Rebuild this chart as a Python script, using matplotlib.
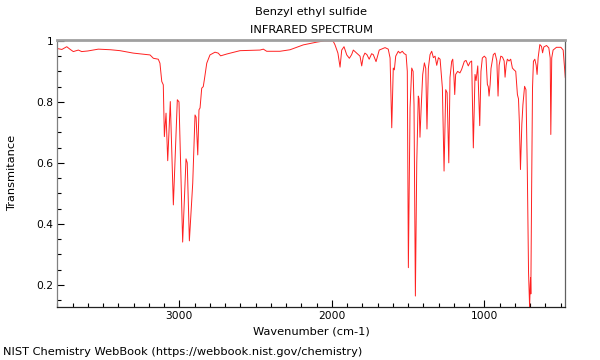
import matplotlib
matplotlib.use("Agg")
import matplotlib.pyplot as plt
from matplotlib.ticker import MultipleLocator, FuncFormatter

title_compound = "Benzyl ethyl sulfide"
title_kind = "INFRARED SPECTRUM"
x_label = "Wavenumber (cm-1)"
y_label = "Transmitance"
footer = "NIST Chemistry WebBook (https://webbook.nist.gov/chemistry)"

wavenumber = [3800, 3770, 3738, 3715, 3695, 3662, 3640, 3600, 3531, 3450, 3389, 3302,
              3192, 3170, 3138, 3127, 3115, 3105, 3098, 3087, 3076, 3059, 3039, 3013,
              3002, 2978, 2956, 2948, 2934, 2912, 2897, 2890, 2879, 2871, 2864, 2853,
              2843, 2836, 2820, 2799, 2766, 2745, 2729, 2689, 2602, 2471, 2449, 2427,
              2340, 2274, 2187, 2099, 2050, 2000, 1990, 1979, 1960, 1946, 1935, 1920,
              1902, 1885, 1870, 1859, 1837, 1815, 1804, 1794, 1783, 1770, 1755, 1739,
              1728, 1710, 1689, 1651, 1630, 1618, 1607, 1597, 1590, 1581, 1564, 1553,
              1538, 1525, 1513, 1505, 1498, 1487, 1476, 1467, 1461, 1452, 1443, 1433,
              1428, 1422, 1415, 1404, 1393, 1384, 1376, 1367, 1356, 1345, 1334, 1323,
              1312, 1301, 1290, 1275, 1264, 1253, 1244, 1233, 1225, 1214, 1207, 1199,
              1194, 1188, 1175, 1160, 1149, 1131, 1120, 1105, 1094, 1083, 1072, 1061,
              1054, 1043, 1030, 1022, 1013, 1000, 989, 980, 974, 969, 962, 956, 941,
              930, 918, 910, 903, 892, 881, 870, 864, 857, 849, 838, 827, 816, 805, 794,
              783, 776, 770, 763, 754, 747, 736, 727, 718, 710, 703, 699, 697, 695, 690,
              684, 678, 669, 660, 654, 647, 636, 625, 618, 610, 592, 577, 568, 564, 558,
              549, 527, 498, 483, 469]

transmittance = [0.975, 0.972, 0.981, 0.972, 0.965, 0.970, 0.965, 0.967, 0.973, 0.971, 0.968, 0.960,
                 0.954, 0.943, 0.940, 0.927, 0.867, 0.856, 0.686, 0.763, 0.607, 0.801, 0.462, 0.807,
                 0.800, 0.340, 0.613, 0.600, 0.344, 0.533, 0.757, 0.750, 0.626, 0.774, 0.780, 0.845,
                 0.850, 0.872, 0.927, 0.954, 0.963, 0.960, 0.951, 0.957, 0.968, 0.970, 0.973, 0.966,
                 0.966, 0.971, 0.987, 0.996, 1.000, 1.000, 0.998, 0.987, 0.960, 0.914, 0.970, 0.981,
                 0.954, 0.943, 0.955, 0.970, 0.960, 0.950, 0.918, 0.948, 0.960, 0.955, 0.940, 0.958,
                 0.955, 0.932, 0.970, 0.978, 0.973, 0.944, 0.715, 0.911, 0.905, 0.950, 0.966, 0.960,
                 0.966, 0.958, 0.955, 0.900, 0.256, 0.780, 0.911, 0.900, 0.790, 0.163, 0.600, 0.819,
                 0.810, 0.684, 0.770, 0.890, 0.928, 0.910, 0.711, 0.910, 0.955, 0.966, 0.945, 0.950,
                 0.920, 0.945, 0.940, 0.846, 0.573, 0.840, 0.830, 0.600, 0.880, 0.933, 0.940, 0.880,
                 0.824, 0.890, 0.900, 0.895, 0.906, 0.933, 0.936, 0.918, 0.930, 0.934, 0.649, 0.890,
                 0.870, 0.918, 0.722, 0.900, 0.944, 0.950, 0.944, 0.857, 0.850, 0.819, 0.857, 0.910, 0.955,
                 0.960, 0.935, 0.819, 0.920, 0.950, 0.947, 0.934, 0.881, 0.920, 0.940, 0.934, 0.940, 0.911, 0.905, 0.900,
                 0.824, 0.810, 0.730, 0.578, 0.726, 0.790, 0.851, 0.840, 0.570, 0.240, 0.126, 0.200, 0.223, 0.170, 0.500,
                 0.846, 0.933, 0.940, 0.920, 0.890, 0.945, 0.988, 0.982, 0.961, 0.980, 0.985, 0.977, 0.944, 0.693, 0.944,
                 0.970, 0.979, 0.979, 0.970, 0.880]

y_ticks = [0.2, 0.4, 0.6, 0.8, 1.0]
x_ticks = [1000, 2000, 3000]

fig = plt.figure(figsize=(6, 3.6), dpi=100)
ax = fig.add_axes([57.3 / 600, 1 - 306.7 / 360, (565.3 - 57.3) / 600, (306.7 - 40) / 360])
ax.plot(wavenumber, transmittance, color="#ff2020", lw=0.7)
ax.set_xlim(3800, 469)
ax.set_ylim(0.128, 1.003)

fs_tick = 7.7
fs = 8.2
ax.set_xticks(x_ticks)
ax.set_yticks(y_ticks)
ax.xaxis.set_minor_locator(MultipleLocator(100))
ax.yaxis.set_minor_locator(MultipleLocator(0.05))
ax.yaxis.set_major_formatter(FuncFormatter(lambda v, p: "%g" % v))
ax.tick_params(which="both", direction="in", top=False, right=False, labelsize=fs_tick, pad=3)
ax.tick_params(which="major", length=5, width=0.8)
ax.tick_params(which="minor", length=3, width=0.8)

ax.spines["top"].set_color("#a0a0a0")
ax.spines["top"].set_linewidth(2)
ax.spines["left"].set_color("#808080")
ax.spines["right"].set_color("#606060")
ax.spines["bottom"].set_color("#222222")
for s in ax.spines.values():
    if s is not ax.spines["top"]:
        s.set_linewidth(0.9)

ax.set_xlabel(x_label, fontsize=fs, labelpad=4)
ax.set_ylabel(y_label, fontsize=fs, labelpad=14)

fig.text(311.3 / 600, 1 - 12 / 360, title_compound, ha="center", va="center", fontsize=fs)
fig.text(311.3 / 600, 1 - 30 / 360, title_kind, ha="center", va="center", fontsize=fs)
fig.text(3 / 600, 1 - 352 / 360, footer, ha="left", va="center", fontsize=fs)

fig.savefig("out.png", dpi=100)
